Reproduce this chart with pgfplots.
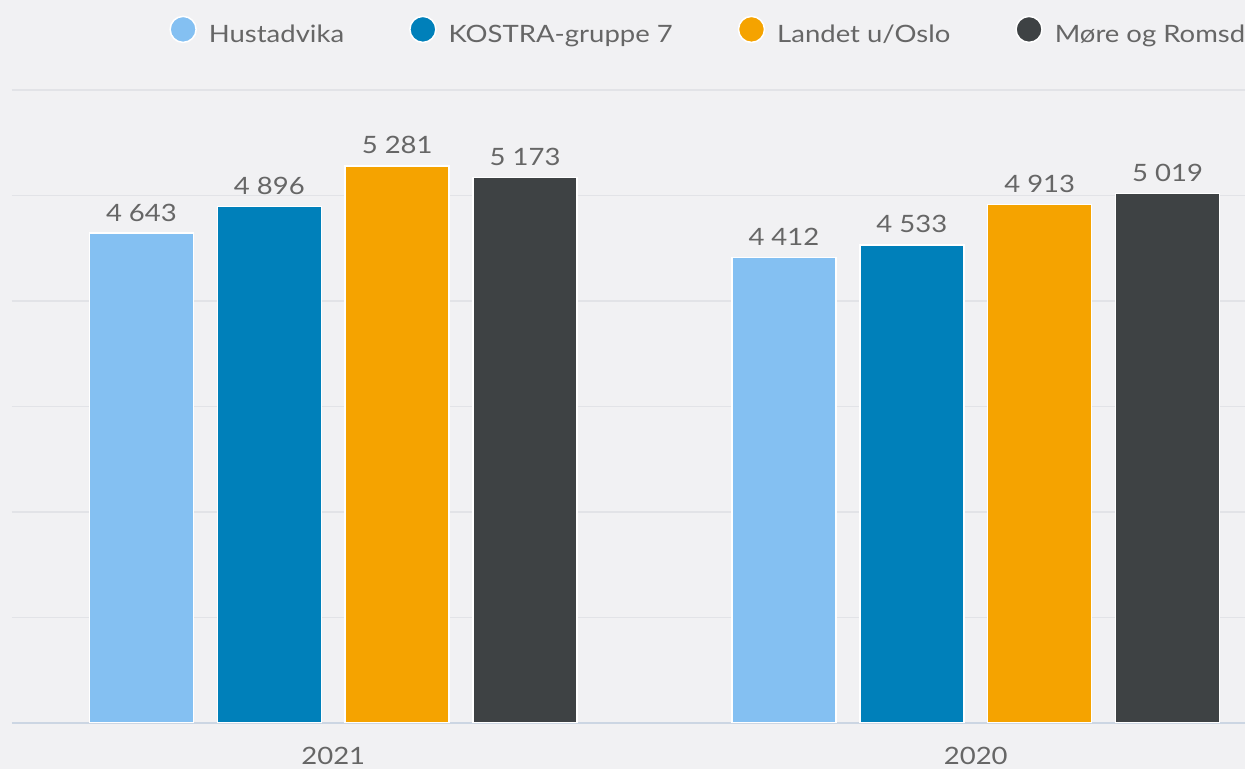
\documentclass[border=0pt]{standalone}
\usepackage{pgfplots}
\pgfplotsset{compat=1.18}
\usepackage{fontspec}
\setmainfont{Lato}[FakeStretch=1.15]

\definecolor{bgcol}{HTML}{F1F1F3}
\definecolor{gridcol}{HTML}{E2E3E7}
\definecolor{basecol}{HTML}{CCD6E3}
\definecolor{txtcol}{HTML}{666666}
\definecolor{lightblue}{HTML}{84C0F2}
\definecolor{darkblue}{HTML}{0080BA}
\definecolor{orangec}{HTML}{F5A300}
\definecolor{darkgray}{HTML}{3E4244}

\begin{document}
\fontsize{13.6pt}{16pt}\selectfont
\begin{tikzpicture}
\useasboundingbox (0,0) rectangle (24.9cm,15.38cm);
\fill[bgcol] (0,0) rectangle (24.9cm,15.38cm);
\clip (0,0) rectangle (24.9cm,15.38cm);
\begin{axis}[
    scale only axis,
    width=25.7cm,
    height=12.66cm,
    at={(0.24cm,0.92cm)},
    anchor=south west,
    xmin=-0.5, xmax=1.5,
    ymin=0, ymax=6000,
    ybar,
    bar width=0.162,
    axis x line*=bottom,
    axis y line*=left,
    y axis line style={draw=none},
    x axis line style={draw=basecol, line width=0.03cm},
    xtick={0,1},
    xticklabels={2021,2020},
    ytick={1000,2000,3000,4000,5000,6000},
    yticklabels={},
    major tick length=0pt,
    ymajorgrids,
    grid style={draw=gridcol, line width=0.03cm},
    xticklabel style={text=txtcol, yshift=-0.32cm},
    /pgf/number format/assume math mode=true,
    /pgf/number format/1000 sep={\ },
    nodes near coords,
    nodes near coords style={text=txtcol, yshift=0.06cm},
    legend columns=4,
    legend style={draw=none, fill=none, inner sep=0pt,
        at={(0.1222,1.0935)}, anchor=west,
        nodes={inner sep=0pt, text=txtcol},
        /tikz/every odd column/.append style={column sep=0.24cm},
        /tikz/every even column/.append style={column sep=1.3cm}},
    legend image code/.code={\fill (0.26cm,0.12cm) circle (0.26cm);},
]
\addplot[fill=lightblue, draw=white, line width=0.03cm, bar shift=-0.2986]
    coordinates {(0,4643) (1,4412)};
\addplot[fill=darkblue, draw=white, line width=0.03cm, bar shift=-0.0995]
    coordinates {(0,4896) (1,4533)};
\addplot[fill=orangec, draw=white, line width=0.03cm, bar shift=0.0995]
    coordinates {(0,5281) (1,4913)};
\addplot[fill=darkgray, draw=white, line width=0.03cm, bar shift=0.2986]
    coordinates {(0,5173) (1,5019)};
\legend{Hustadvika, KOSTRA-gruppe 7, Landet u/Oslo, Møre og Romsdal}
\end{axis}
\end{tikzpicture}
\end{document}
